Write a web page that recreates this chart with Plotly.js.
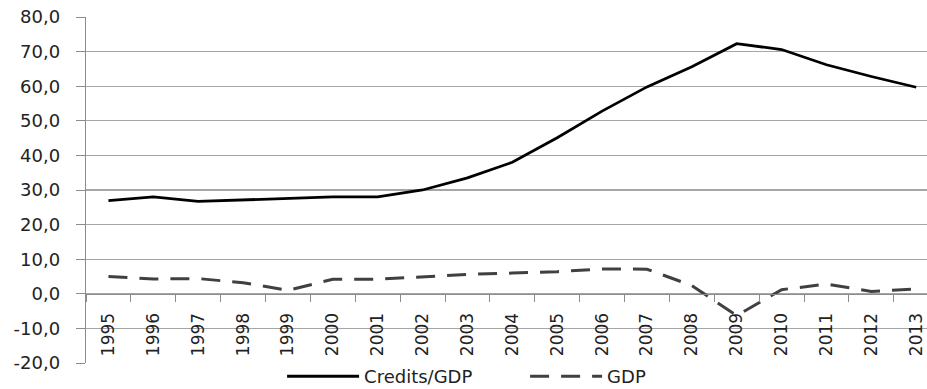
<!DOCTYPE html>
<html>
<head>
<meta charset="utf-8">
<script src="https://cdn.plot.ly/plotly-3.0.1.min.js"></script>
<style>html,body{margin:0;padding:0;background:#fff;}#chart{width:927px;height:389px;}</style>
</head>
<body>
<div id="chart"></div>
<script>
var years = ["1995","1996","1997","1998","1999","2000","2001","2002","2003","2004","2005","2006","2007","2008","2009","2010","2011","2012","2013"];
var creditsGdp = [26.9, 28.0, 26.7, 27.2, 27.5, 28.0, 28.0, 30.0, 33.5, 38.0, 45.1, 52.8, 59.8, 65.6, 72.3, 70.6, 66.2, 62.8, 59.7];
var gdp = [5.0, 4.3, 4.4, 3.2, 1.0, 4.2, 4.2, 4.9, 5.6, 6.0, 6.4, 7.2, 7.1, 2.4, -6.3, 1.2, 2.8, 0.7, 1.4];
var yTicks = [-20, -10, 0, 10, 20, 30, 40, 50, 60, 70, 80];
var yTickLabels = ["-20,0", "-10,0", "0,0", "10,0", "20,0", "30,0", "40,0", "50,0", "60,0", "70,0", "80,0"];

var font = "DejaVu Sans, Verdana, sans-serif";
var traces = [
  {x: years, y: creditsGdp, name: "Credits/GDP", type: "scatter", mode: "lines",
   line: {color: "#000000", width: 2.8}},
  {x: years, y: gdp, name: "GDP", type: "scatter", mode: "lines",
   line: {color: "#404040", width: 3, dash: "19px,12px"}}
];
var layout = {
  width: 927, height: 389,
  margin: {l: 86, r: 0, t: 17, b: 26, autoexpand: false},
  paper_bgcolor: "#ffffff", plot_bgcolor: "#ffffff",
  font: {family: font, size: 18, color: "#222222"},
  showlegend: true,
  legend: {orientation: "h", xref: "container", yref: "container", x: 0.3043, xanchor: "left",
           y: 0.032, yanchor: "middle", font: {family: font, size: 18, color: "#222222"},
           itemwidth: 72, entrywidth: 156, bgcolor: "rgba(0,0,0,0)"},
  xaxis: {type: "category", range: [-0.5, 18.24], anchor: "free", position: 0.2,
          showgrid: false, showline: true, linecolor: "#8c8c8c", linewidth: 1.3,
          ticks: "outside", tickson: "boundaries", ticklen: 7, tickcolor: "#8c8c8c",
          tickangle: -90, ticklabelstandoff: 11, tickfont: {family: font, size: 17, color: "#222222"},
          zeroline: false, fixedrange: true},
  yaxis: {range: [-20, 80], tickvals: yTicks, ticktext: yTickLabels,
          showgrid: true, gridcolor: "#a6a6a6", gridwidth: 1.3,
          showline: true, linecolor: "#8c8c8c", linewidth: 1.3,
          ticks: "outside", ticklen: 9, tickcolor: "#8c8c8c", ticklabelstandoff: 12,
          zeroline: false, tickfont: {family: font, size: 18, color: "#222222"},
          fixedrange: true}
};
Plotly.newPlot("chart", traces, layout, {displayModeBar: false, staticPlot: true});
</script>
</body>
</html>
